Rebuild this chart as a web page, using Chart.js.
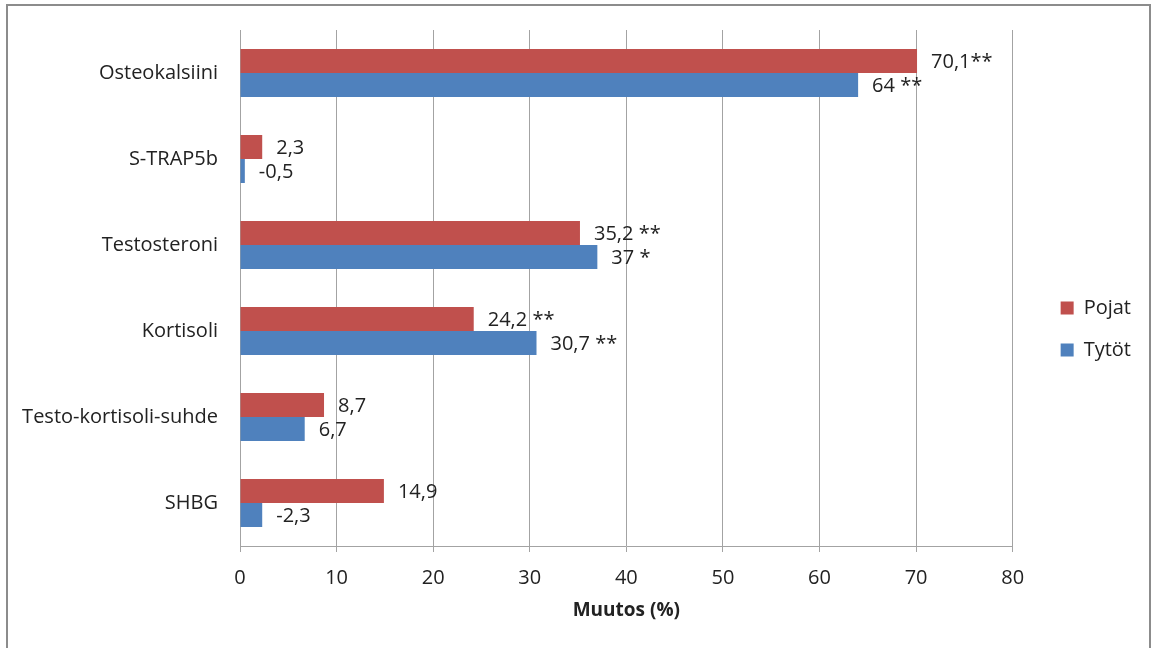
<!DOCTYPE html>
<html>
<head>
<meta charset="utf-8">
<script src="https://cdn.jsdelivr.net/npm/chart.js@4"></script>
<style>
  html, body { margin: 0; padding: 0; background: #ffffff; }
  body { width: 1152px; height: 648px; position: relative; overflow: hidden; }
  #frame {
    position: absolute; left: 6px; top: 4px; width: 1145px; height: 700px;
    border: 2px solid #8c8c8c; box-sizing: border-box; pointer-events: none;
  }
  #wrap { position: absolute; left: 0; top: 0; width: 1152px; height: 648px; }
</style>
</head>
<body>
<div id="wrap"><canvas id="c" width="1152" height="648"></canvas></div>
<div id="frame"></div>
<script>
// Muutos (%) per marker, boys (Pojat) and girls (Tytöt)
const categories = ['Osteokalsiini', 'S-TRAP5b', 'Testosteroni', 'Kortisoli', 'Testo-kortisoli-suhde', 'SHBG'];
const pojatValues = [70.1, 2.3, 35.2, 24.2, 8.7, 14.9];
const tytotValues = [64, -0.5, 37, 30.7, 6.7, -2.3];
// significance markers printed after each value
const pojatSig = ['**', '', ' **', ' **', '', ''];
const tytotSig = [' **', '', ' *', ' **', '', ''];
const xTicks = [0, 10, 20, 30, 40, 50, 60, 70, 80];

const FONT = '"Open Sans", Lato, sans-serif';
const TEXT = '#222222';
const GRID = '#a3a3a3';

const fmt = v => String(v).replace('.', ',');

// bar lengths are drawn as magnitudes on the 0–80 axis
const valueLabels = {
  0: pojatValues.map((v, i) => fmt(v) + pojatSig[i]),
  1: tytotValues.map((v, i) => fmt(v) + tytotSig[i])
};

const barLabels = {
  id: 'barLabels',
  afterDatasetsDraw(chart) {
    const ctx = chart.ctx;
    ctx.save();
    ctx.font = '20px ' + FONT;
    ctx.fillStyle = TEXT;
    ctx.textAlign = 'left';
    ctx.textBaseline = 'middle';
    chart.data.datasets.forEach((ds, di) => {
      const meta = chart.getDatasetMeta(di);
      meta.data.forEach((bar, i) => {
        ctx.fillText(valueLabels[di][i], bar.x + 14, bar.y + 1);
      });
    });
    ctx.restore();
  }
};

new Chart(document.getElementById('c'), {
  type: 'bar',
  data: {
    labels: categories,
    datasets: [
      {
        label: 'Pojat',
        data: pojatValues.map(Math.abs),
        backgroundColor: '#C0504D',
        categoryPercentage: 0.56,
        barPercentage: 1.0
      },
      {
        label: 'Tytöt',
        data: tytotValues.map(Math.abs),
        backgroundColor: '#4F81BD',
        categoryPercentage: 0.56,
        barPercentage: 1.0
      }
    ]
  },
  options: {
    indexAxis: 'y',
    responsive: false,
    animation: false,
    devicePixelRatio: 1,
    layout: { padding: { top: 30, bottom: 20, left: 0, right: 11 } },
    plugins: {
      tooltip: { enabled: false },
      legend: {
        position: 'right',
        align: 'center',
        labels: {
          boxWidth: 13,
          boxHeight: 13,
          padding: 22,
          color: TEXT,
          font: { family: FONT, size: 20 }
        }
      }
    },
    scales: {
      x: {
        type: 'linear',
        min: 0,
        max: 80,
        afterBuildTicks: s => { s.ticks = xTicks.map(v => ({ value: v })); },
        afterFit: s => { s.height = 82; },
        grid: { color: GRID, lineWidth: 1, drawTicks: true, tickLength: 6, tickColor: GRID },
        border: { display: true, color: GRID, width: 1 },
        ticks: { color: TEXT, font: { family: FONT, size: 20 }, padding: 14 },
        title: {
          display: true,
          text: 'Muutos (%)',
          color: TEXT,
          font: { family: FONT, size: 19, weight: 'bold' },
          padding: { top: 6, bottom: 6 }
        }
      },
      y: {
        type: 'category',
        grid: { display: false, drawTicks: false },
        border: { display: true, color: GRID, width: 1 },
        ticks: { color: TEXT, font: { family: FONT, size: 20 }, padding: 22 },
        afterFit: s => { s.width = 240; s.paddingTop = 0; s.paddingBottom = 0; }
      },
      gap: {
        type: 'linear',
        axis: 'y',
        position: 'right',
        display: true,
        grid: { display: false, drawTicks: false },
        border: { display: false },
        ticks: { display: false },
        afterFit: s => { s.width = 26; }
      }
    }
  },
  plugins: [barLabels]
});
</script>
</body>
</html>
